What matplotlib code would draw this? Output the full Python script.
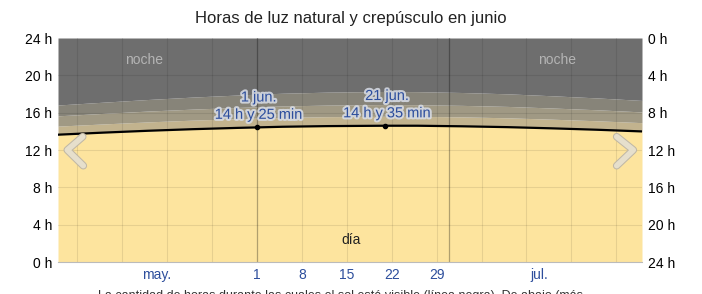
import matplotlib
matplotlib.use('Agg')
import matplotlib.pyplot as plt
import matplotlib.patheffects as pe
from matplotlib.lines import Line2D

plt.rcParams['font.family'] = ['Liberation Sans', 'DejaVu Sans']

# dias contados desde el 1 de mayo (0) hasta el 31 de julio (91)
dias = [0, 7, 14, 21, 28, 31, 35, 42, 51, 56, 63, 70, 77, 84, 91]
luz = [13.64, 13.86, 14.06, 14.23, 14.37, 14.42, 14.49, 14.56, 14.60, 14.60, 14.54, 14.45, 14.32, 14.17, 13.99]
civil = [14.56, 14.79, 15.01, 15.20, 15.35, 15.41, 15.49, 15.57, 15.61, 15.60, 15.55, 15.45, 15.30, 15.13, 14.93]
nautico = [15.66, 15.92, 16.17, 16.38, 16.56, 16.63, 16.72, 16.81, 16.87, 16.85, 16.78, 16.67, 16.50, 16.31, 16.08]
astro = [16.82, 17.12, 17.41, 17.67, 17.89, 17.98, 18.08, 18.20, 18.27, 18.25, 18.16, 18.02, 17.81, 17.58, 17.31]

# etiquetas del eje x
ticks_semana = [31, 38, 45, 52, 59]
labels_semana = ['1', '8', '15', '22', '29']
ticks_mes = [15.3, 75]
labels_mes = ['may.', 'jul.']
lineas_semana = [3, 10, 17, 24, 38, 45, 52, 59, 66, 73, 80, 87]
lineas_mes = [31, 61]

# puntos destacados
marcas_x = [31, 51]
marcas_y = [14.42, 14.58]
marcas_txt = ['1 jun.\n14 h y 25 min', '21 jun.\n14 h y 35 min']

c_dia = '#fde49e'
c_civil = '#c2b38e'
c_naut = '#a09984'
c_astro = '#878479'
c_noche = '#6e6e6e'
azul = '#2d4e9c'

fig = plt.figure(figsize=(7.02, 2.94), dpi=100)
ax = fig.add_axes([58 / 702, 32 / 294, 584 / 702, 224 / 294])

ax.fill_between(dias, 0, luz, color=c_dia, lw=0)
ax.fill_between(dias, luz, civil, color=c_civil, lw=0)
ax.fill_between(dias, civil, nautico, color=c_naut, lw=0)
ax.fill_between(dias, nautico, astro, color=c_astro, lw=0)
ax.fill_between(dias, astro, 24, color=c_noche, lw=0)

for h in [4, 8, 12, 16, 20]:
    ax.axhline(h, color='#000000', alpha=0.09, lw=0.8)
for d in lineas_semana:
    ax.axvline(d, color='#000000', alpha=0.09, lw=0.8)
for d in lineas_mes:
    ax.axvline(d, color='#000000', alpha=0.3, lw=0.9)

ax.plot(dias, luz, color='black', lw=1.6)

halo = [pe.withStroke(linewidth=3, foreground='#d9dee8', alpha=0.85)]
for x, y, t in zip(marcas_x, marcas_y, marcas_txt):
    ax.plot(x, y, 'o', color='black', ms=3)
    ax.text(x + 0.3, y + 0.6, t, ha='center', va='bottom', color=azul,
            fontsize=10.5, linespacing=1.3, path_effects=halo)

ax.text(13.4, 21.6, 'noche', ha='center', va='center', color='#b4b4b4', fontsize=10)
ax.text(77.7, 21.6, 'noche', ha='center', va='center', color='#b4b4b4', fontsize=10)
ax.text(45.6, 2.4, 'día', ha='center', va='center', color='#222222', fontsize=10)

ax.set_xlim(0, 91)
ax.set_ylim(0, 24)
ax.set_yticks([0, 4, 8, 12, 16, 20, 24])
ax.set_yticklabels([f'{h} h' for h in [0, 4, 8, 12, 16, 20, 24]])
ax.set_xticks(ticks_semana + ticks_mes)
ax.set_xticklabels(labels_semana + labels_mes)
ax.tick_params(axis='x', length=0, colors=azul, labelsize=10, pad=4)
ax.tick_params(axis='y', length=0, labelsize=10, pad=4)

ax2 = ax.twinx()
ax2.set_ylim(24, 0)
ax2.set_yticks([0, 4, 8, 12, 16, 20, 24])
ax2.set_yticklabels([f'{h} h' for h in [0, 4, 8, 12, 16, 20, 24]])
ax2.tick_params(axis='y', length=0, labelsize=10, pad=4)

for a in (ax, ax2):
    for s in a.spines.values():
        s.set_visible(False)
ax.spines['bottom'].set_visible(True)
ax.spines['bottom'].set_color('#bbbbbb')

# flechas de navegacion
for xs in ([82.7, 67.3, 83.3], [616.7, 633.3, 616.7]):
    ys = [136.7, 150, 165.7]
    fx = [v / 702 for v in xs]
    fy = [(294 - v) / 294 for v in ys]
    fig.add_artist(Line2D(fx, fy, color='#e6dfcc', lw=4, solid_capstyle='round',
                          solid_joinstyle='round',
                          path_effects=[pe.withStroke(linewidth=5.5, foreground='#c0b8a6')]))

fig.text(0.5, 276 / 294, 'Horas de luz natural y crepúsculo en junio', ha='center',
         va='center', fontsize=12, color='#222222')
fig.text(0.485, 0.012, 'La cantidad de horas durante las cuales el sol está visible (línea negra). De abajo (más',
         ha='center', va='top', fontsize=9, color='#333333')

fig.savefig('out.png', dpi=100)
